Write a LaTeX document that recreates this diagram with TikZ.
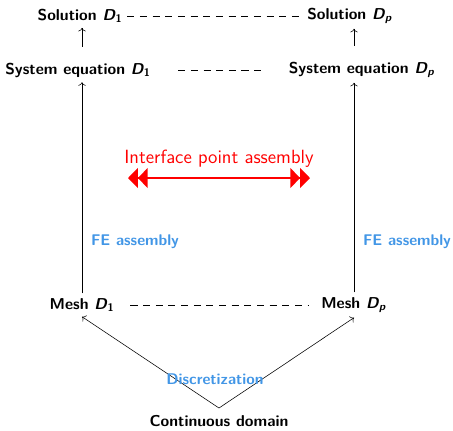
\documentclass[tikz,border=0pt]{standalone}
\usepackage{amsmath}
\usepackage{xcolor}
\usetikzlibrary{arrows.meta}
\definecolor{feblue}{RGB}{66,150,230}
\tikzset{
  lbl/.style={font=\fontsize{11.2}{13}\sffamily\bfseries},
  fe/.style={font=\fontsize{11}{13}\sffamily\bfseries,text=feblue},
  up/.style={->,thin},
  dsh/.style={dashed,dash pattern=on 5pt off 4pt,thin},
  ifa/.style={{Triangle[length=7pt,width=14pt]Triangle[length=7pt,width=14pt]}-{Triangle[length=7pt,width=14pt]Triangle[length=7pt,width=14pt]},red,line width=1.2pt}
}
\newcommand{\dsub}[1]{\textit{D}\textsubscript{#1}}

\begin{document}
\begin{tikzpicture}[x=0.025cm,y=-0.025cm]
\useasboundingbox (0,0) rectangle (453,430);
% top row
\node[lbl] (sol1) at (80,16) {Solution \dsub{1}};
\node[lbl] (solp) at (350,16) {Solution \dsub{\textit{p}}};
\node[lbl] (sys1) at (78,70) {System equation \dsub{1}};
\node[lbl] (sysp) at (362,70) {System equation \dsub{\textit{p}}};
% meshes
\node[lbl] (mesh1) at (82,305) {Mesh \dsub{1}};
\node[lbl] (meshp) at (354,305) {Mesh \dsub{\textit{p}}};
\node[lbl,inner sep=1pt] (cont) at (219,421) {Continuous domain};
\coordinate (apex) at (219,408);
% labels
\node[fe] (fe1) at (135,242) {FE assembly};
\node[fe] (fep) at (407,242) {FE assembly};
\node[red,font=\fontsize{13.6}{16}\sffamily] (ifc) at (219,159) {Interface point assembly};
\coordinate (il) at (128,178);
\coordinate (ir) at (310,178);

\draw[dsh] (sol1.east) -- (solp.west);
\draw[dsh,shorten <=16pt,shorten >=16pt] (sys1.east) -- (sysp.west);
\draw[dsh,shorten <=8pt,shorten >=6pt] (mesh1.east) -- (meshp.west);

\draw[up,shorten <=8pt] (sys1.north -| mesh1.north) -- (sol1.south -| mesh1.north);
\draw[up,shorten <=8pt] (sysp.north -| meshp.north) -- (solp.south -| meshp.north);
\draw[up] (mesh1.north) -- (sys1.south -| mesh1.north);
\draw[up] (meshp.north) -- (sysp.south -| meshp.north);

\draw[up] (apex) -- (mesh1.south);
\draw[up] (apex) -- (meshp.south);
\node[fe] (disc) at (215,379) {Discretization};

\draw[ifa] (il) -- (ir);
\end{tikzpicture}
\end{document}
